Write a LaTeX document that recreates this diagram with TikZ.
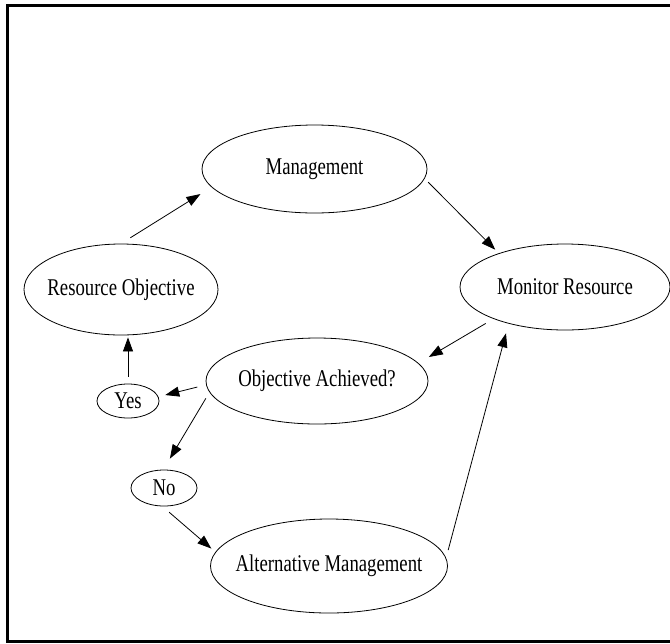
\documentclass[tikz,border=0pt]{standalone}
\usepackage{fontspec}
\setmainfont[FakeStretch=0.78]{Liberation Serif}
\usepackage{tikz}
\usetikzlibrary{arrows.meta,shapes.geometric}
\tikzset{
  oval/.style={draw=black, ellipse, line width=0.6pt, inner sep=0pt, font=\fontsize{18pt}{20pt}\selectfont},
  link/.style={draw=black, line width=0.6pt, -{Triangle[length=10.5pt,width=7.5pt]}},
  frame/.style={draw=black, line width=2.25pt},
}
\newcommand{\oneline}[1]{\makebox[0pt]{#1}}

\begin{document}
\begin{tikzpicture}[x=0.75pt,y=-0.75pt]
\useasboundingbox (0,0) rectangle (670,643);
\draw[frame] (7,5.5) rectangle (700,641.5);
\node[oval, minimum width=168.75pt, minimum height=66pt] (mgmt) at (314.5,169) {\oneline{Management}};
\node[oval, minimum width=145.5pt, minimum height=68.25pt] (resobj) at (121,289.5) {\oneline{Resource Objective}};
\node[oval, minimum width=157.5pt, minimum height=64.5pt] (monitor) at (565,287) {\oneline{Monitor Resource}};
\node[oval, minimum width=166.5pt, minimum height=64.5pt] (achieved) at (317,381) {\oneline{Objective Achieved?}};
\node[oval, minimum width=46.5pt, minimum height=25.5pt] (yes) at (128,401) {\oneline{Yes}};
\node[oval, minimum width=49.5pt, minimum height=27pt] (no) at (164,488) {\oneline{No}};
\node[oval, minimum width=177.75pt, minimum height=70.5pt] (alt) at (329,566) {\oneline{Alternative Management}};
\draw[link, shorten <=8.25pt, shorten >=9.75pt] (resobj.north) -- (mgmt.190);
\draw[link, shorten <=3.75pt, shorten >=3.75pt] (mgmt.355) -- (monitor.153);
\draw[link, shorten <=6.75pt, shorten >=9pt] (monitor.204) -- (achieved.10);
\draw[link, shorten <=6.75pt, shorten >=5.25pt] (achieved.182) -- (yes.8);
\draw[link, shorten <=5.25pt, shorten >=1.5pt] (yes.north) -- (yes.north |- resobj.south);
\draw[link, shorten <=5.25pt, shorten >=9.6pt] (achieved.186) -- (no.92);
\draw[link, shorten <=6.75pt, shorten >=4pt] (no.265) -- (alt.173);
\draw[link, shorten <=6pt, shorten >=7.5pt] (alt.4) -- (monitor.213);
\end{tikzpicture}
\end{document}
